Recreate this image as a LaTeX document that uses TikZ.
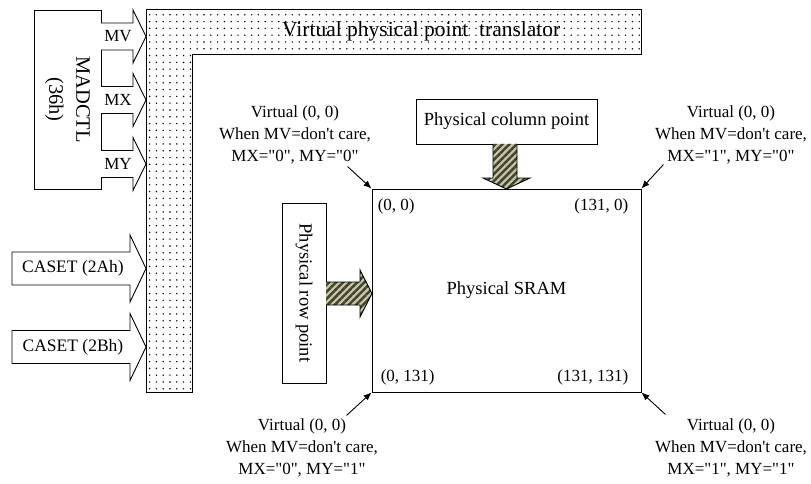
\documentclass[tikz,border=0pt]{standalone}
\usepackage{fontspec}
\setmainfont{Liberation Serif}
\usetikzlibrary{arrows.meta,calc,patterns.meta}
\definecolor{olv}{HTML}{45451F}
\definecolor{hatchbg}{HTML}{C4C4B8}
\newcommand\qt[1]{\textquotedbl#1\textquotedbl}
\tikzset{
  >={Latex[length=8pt,width=6.5pt]},
  txt/.style={font=\fontsize{17}{22}\selectfont,align=center,inner sep=0pt},
  bx/.style={draw,line width=0.9pt,fill=white,font=\fontsize{18.5}{22}\selectfont,align=center},
  blk/.style={draw,line width=0.9pt,fill=white},
  dotarea/.style={draw,line width=0.9pt,pattern={Dots[distance=6.8pt,radius=0.8pt]}},
  hatch/.style={draw,line width=0.9pt,preaction={fill=hatchbg},pattern={Lines[angle=45,distance=5pt,line width=2.5pt]},pattern color=olv},
  ptr/.style={->,line width=0.9pt},
}

\begin{document}
\begin{tikzpicture}[x=1pt,y=-1pt]
\useasboundingbox (0,0) rectangle (811,484);
% translator
\draw[dotarea] (146,9) -- (641,9) -- (641,54) -- (192,54) -- (192,392) -- (146,392) -- cycle;
\node[txt,anchor=west,font=\fontsize{21.5}{24}\selectfont] (trans) at (282,31) {Virtual physical point\ \ translator};
% MADCTL and its bits
\node[bx,rotate=-90,minimum width=179,minimum height=67,font=\fontsize{20.5}{27}\selectfont] (madctl) at (67.5,99.5) {MADCTL\\(36h)};
\foreach \y/\t/\n in {36.5/MV/mv,100/MX/mx,164/MY/my}{
  \draw[blk] (101,\y-13.5) -- (133,\y-13.5) -- (133,\y-26.5) -- (146,\y) -- (133,\y+26.5) -- (133,\y+13.5) -- (101,\y+13.5);
  \node[txt] (\n) at (118,\y) {\t};}
\foreach \y/\t/\n in {268.5/2Ah/casa,347/2Bh/casb}{
  \draw[blk] (12,\y-16.5) -- (130,\y-16.5) -- (130,\y-33.5) -- (146,\y) -- (130,\y+33.5) -- (130,\y+16.5) -- (12,\y+16.5) -- cycle;
  \node[txt,font=\fontsize{17.5}{22}\selectfont] (\n) at (73,\y) {CASET (\t)};}
% SRAM
\node[bx,minimum width=269,minimum height=203] (sram) at (506.5,290.5) {Physical SRAM};
\node[txt,anchor=west] (c00) at ($(sram.north west)+(6,18)$) {(0, 0)};
\node[txt,anchor=east] (c10) at ($(sram.north east)+(-13,18)$) {(131, 0)};
\node[txt,anchor=west] (c01) at ($(sram.south west)+(9,-15)$) {(0, 131)};
\node[txt,anchor=east] (c11) at ($(sram.south east)+(-13,-15)$) {(131, 131)};
% pointers
\node[bx,minimum width=181,minimum height=45] (colpt) at (506.5,121.5) {Physical column point};
\node[bx,rotate=-90,minimum width=180,minimum height=44] (rowpt) at (304,293) {Physical row point};
\draw[hatch] (493,144) -- (493,178) -- (483,178) -- (506.5,189) -- (530,178) -- (517,178) -- (517,144);
\draw[hatch] (326,282) -- (360,282) -- (360,270) -- (372,293.5) -- (360,317) -- (360,305) -- (326,305);
% virtual origins
\node[txt] (vtl) at (295,135) {Virtual (0, 0)\\When MV=don\textquotesingle t care,\\MX=\qt{0}, MY=\qt{0}};
\node[txt] (vtr) at (731,135) {Virtual (0, 0)\\When MV=don\textquotesingle t care,\\MX=\qt{1}, MY=\qt{0}};
\node[txt] (vbl) at (302,448) {Virtual (0, 0)\\When MV=don\textquotesingle t care,\\MX=\qt{0}, MY=\qt{1}};
\node[txt] (vbr) at (731,448) {Virtual (0, 0)\\When MV=don\textquotesingle t care,\\MX=\qt{1}, MY=\qt{1}};
\coordinate (ptl) at ($(sram.north west)+(-24,-22)$);
\coordinate (ptr) at ($(sram.north east)+(22,-24)$);
\coordinate (pbl) at ($(sram.south west)+(-25,23)$);
\coordinate (pbr) at ($(sram.south east)+(24,22)$);
\draw[ptr] (ptl) -- (sram.north west);
\draw[ptr] (ptr) -- (sram.north east);
\draw[ptr] (pbl) -- (sram.south west);
\draw[ptr] (pbr) -- (sram.south east);
\end{tikzpicture}
\end{document}
